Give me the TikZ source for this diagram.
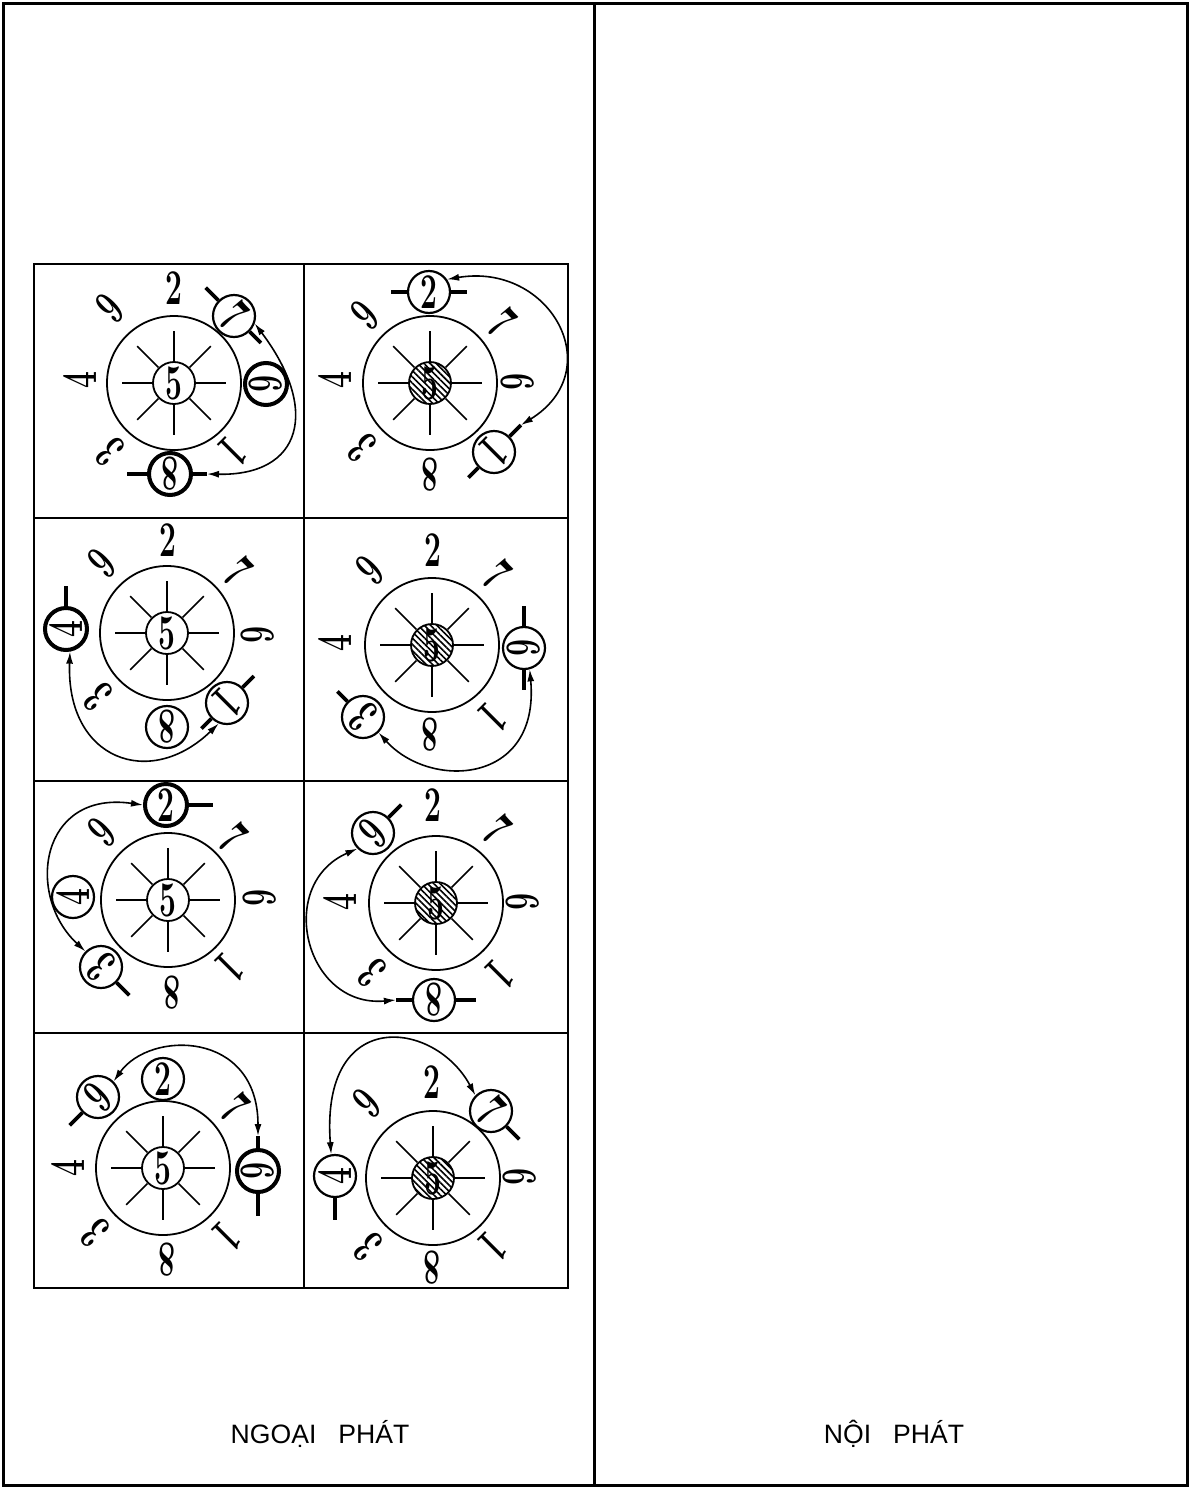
\documentclass[tikz,border=0pt]{standalone}
\usepackage{graphicx}
\usepackage{fontspec}
\newfontfamily\capfont{Liberation Sans}
\usetikzlibrary{arrows.meta,calc,patterns.meta}
\newcommand\dg[1]{\scalebox{0.6}[1]{#1}}
\newcommand\digfont{\fontsize{25}{25}\selectfont\bfseries}
\tikzset{
 frame/.style={line width=1.5pt},
 gridl/.style={line width=1.1pt},
 bigc/.style={circle,draw,line width=0.9pt,minimum size=67pt,inner sep=0pt},
 core/.style={circle,draw,line width=0.9pt,minimum size=21pt,inner sep=0pt,fill=white},
 hcore/.style={core,postaction={pattern={Lines[angle=-45,distance=2.2pt,line width=0.8pt]}}},
 ray/.style={line width=0.8pt},
 cn/.style={circle,draw,line width=1.1pt,minimum size=21pt,inner sep=0pt,fill=white},
 cnb/.style={cn,line width=2pt},
 dig/.style={inner sep=0pt,font=\digfont},
 stubl/.style={line width=1.8pt},
 arcl/.style={line width=0.8pt,{Latex[length=6pt,width=3.5pt]}-{Latex[length=6pt,width=3.5pt]}},
 captxt/.style={font=\capfont\fontsize{13.3}{13.3}\selectfont,inner sep=0pt}
}
\newcommand\rays[1]{\foreach \a in {0,45,...,315}{\draw[ray] ($(#1)+(\a:22)$) -- ($(#1)+(\a:52)$);}}
\newcommand\lab[4]{\node[dig,rotate=#4] (#1) at (#2) {\dg{#3}};}
\newcommand\cnum[5]{\node[#5] (#1) at (#2) {};\node[dig,rotate=#4] (#1d) at (#1) {\dg{#3}};}
\newcommand\stub[3]{\draw[stubl] (#1.#2) -- ($(#1.#2)+(#2:#3)$);}
\newcommand\stubc[4]{\draw[stubl] (#1.#2) -- ($(#1.#2)+(#2:#3)$) coordinate (#4);}
\newcommand\plaincore[1]{\node[core] (#1-5) at (#1) {};\node[dig] (#1-5d) at (#1) {\dg5};}
\newcommand\hatchcore[1]{\node[hcore] (#1-5) at (#1) {};\node[dig] (#1-5d) at (#1) {\dg5};}
\begin{document}
\begin{tikzpicture}[x=0.5pt,y=0.5pt]
\useasboundingbox (0,0) rectangle (1190,-1489);
% frame
\draw[frame] (3,-3) rectangle (1187,-1485);
\draw[frame] (594,-3) -- (594,-1485);
% grid
\draw[gridl] (34,-264) rectangle (568,-1288);
\draw[gridl] (304,-264) -- (304,-1288);
\foreach \y in {518,781,1033}{\draw[gridl] (34,-\y) -- (568,-\y);}

% ---------- cell 1
\node[bigc] (c1) at (174,-383) {};
\rays{c1}
\plaincore{c1}
\lab{c1-2}{174,-288}{2}{0}
\lab{c1-9}{110,-308}{9}{45}
\lab{c1-4}{80,-380}{4}{90}
\lab{c1-3}{110,-452}{3}{135}
\lab{c1-1}{233,-452}{1}{-135}
\cnum{c1-7}{234,-316}{7}{-45}{cn}
\cnum{c1-6}{266,-384}{6}{-90}{cnb}
\cnum{c1-8}{170,-474}{8}{180}{cnb}
\stub{c1-7}{135}{18}
\stub{c1-7}{-45}{16}
\stub{c1-8}{180}{20}
\stubc{c1-8}{0}{14}{c1-8e}
\draw[arcl] (c1-7.-20) .. controls (320,-410) and (302,-476) .. (c1-8e);

% ---------- cell 2
\node[bigc] (c2) at (430,-383) {};
\rays{c2}
\hatchcore{c2}
\lab{c2-9}{365,-315}{9}{45}
\lab{c2-4}{335,-380}{4}{90}
\lab{c2-3}{362,-448}{3}{135}
\lab{c2-8}{430,-475}{8}{180}
\lab{c2-7}{502,-323}{7}{-45}
\lab{c2-6}{518,-382}{6}{-90}
\cnum{c2-2}{429,-292}{2}{0}{cn}
\cnum{c2-1}{494,-452}{1}{-135}{cn}
\stub{c2-2}{180}{16}
\stub{c2-2}{0}{16}
\stubc{c2-1}{45}{16}{c2-1e}
\stub{c2-1}{-135}{14}
\draw[arcl] (c2-1e) .. controls (610,-370) and (550,-262) .. (c2-2.35);

% ---------- cell 3
\node[bigc] (c3) at (167,-633) {};
\rays{c3}
\plaincore{c3}
\lab{c3-2}{168,-540}{2}{0}
\lab{c3-9}{102,-563}{9}{45}
\lab{c3-7}{238,-572}{7}{-45}
\lab{c3-6}{258,-635}{6}{-90}
\lab{c3-3}{98,-697}{3}{135}
\cnum{c3-4}{66,-629}{4}{90}{cnb}
\cnum{c3-8}{167,-727}{8}{180}{cn}
\cnum{c3-1}{227,-703}{1}{-135}{cn}
\stub{c3-4}{90}{20}
\stub{c3-1}{45}{16}
\stub{c3-1}{-135}{14}
\draw[arcl] (c3-4.-80) .. controls (66,-760) and (150,-790) .. (c3-1.-112);

% ---------- cell 4
\node[bigc] (c4) at (432,-645) {};
\rays{c4}
\hatchcore{c4}
\lab{c4-2}{433,-550}{2}{0}
\lab{c4-9}{370,-570}{9}{45}
\lab{c4-7}{497,-575}{7}{-45}
\lab{c4-4}{335,-643}{4}{90}
\lab{c4-8}{430,-735}{8}{180}
\lab{c4-1}{493,-718}{1}{-135}
\cnum{c4-6}{524,-648}{6}{-90}{cn}
\cnum{c4-3}{363,-717}{3}{135}{cn}
\stub{c4-6}{90}{20}
\stub{c4-6}{-90}{20}
\stub{c4-3}{135}{14}
\draw[arcl] (c4-3.-45) .. controls (430,-790) and (540,-785) .. (c4-6.-75);

% ---------- cell 5
\node[bigc] (c5) at (168,-900) {};
\rays{c5}
\plaincore{c5}
\lab{c5-9}{102,-832}{9}{45}
\lab{c5-7}{233,-838}{7}{-45}
\lab{c5-6}{260,-898}{6}{-90}
\lab{c5-1}{230,-968}{1}{-135}
\lab{c5-8}{172,-993}{8}{180}
\cnum{c5-2}{166,-805}{2}{0}{cnb}
\cnum{c5-4}{73,-897}{4}{90}{cn}
\cnum{c5-3}{101,-967}{3}{135}{cn}
\stub{c5-2}{0}{24}
\stub{c5-3}{-45}{18}
\draw[arcl] (c5-2.180) .. controls (40,-790) and (25,-895) .. (c5-3.135);

% ---------- cell 6
\node[bigc] (c6) at (436,-903) {};
\rays{c6}
\hatchcore{c6}
\lab{c6-2}{433,-805}{2}{0}
\lab{c6-7}{497,-830}{7}{-45}
\lab{c6-4}{340,-902}{4}{90}
\lab{c6-6}{523,-902}{6}{-90}
\lab{c6-3}{372,-973}{3}{135}
\lab{c6-1}{500,-975}{1}{-135}
\cnum{c6-9}{373,-833}{9}{45}{cn}
\cnum{c6-8}{434,-1000}{8}{180}{cn}
\stub{c6-9}{45}{18}
\stub{c6-8}{0}{20}
\stubc{c6-8}{180}{16}{c6-8e}
\draw[arcl] (c6-8e) .. controls (305,-1008) and (275,-885) .. (c6-9.-135);

% ---------- cell 7
\node[bigc] (c7) at (163,-1168) {};
\rays{c7}
\plaincore{c7}
\lab{c7-7}{235,-1108}{7}{-45}
\lab{c7-4}{68,-1168}{4}{90}
\lab{c7-3}{95,-1233}{3}{135}
\lab{c7-8}{167,-1260}{8}{180}
\lab{c7-1}{227,-1237}{1}{-135}
\cnum{c7-2}{163,-1079}{2}{0}{cn}
\cnum{c7-9}{98,-1097}{9}{45}{cn}
\cnum{c7-6}{258,-1171}{6}{-90}{cnb}
\stub{c7-9}{-135}{18}
\stub{c7-6}{-90}{22}
\stubc{c7-6}{90}{12}{c7-6e}
\draw[arcl] (c7-9.45) .. controls (150,-1030) and (258,-1030) .. (c7-6e);

% ---------- cell 8
\node[bigc] (c8) at (433,-1178) {};
\rays{c8}
\hatchcore{c8}
\lab{c8-2}{432,-1082}{2}{0}
\lab{c8-9}{367,-1103}{9}{45}
\lab{c8-6}{520,-1177}{6}{-90}
\lab{c8-1}{493,-1247}{1}{-135}
\lab{c8-8}{432,-1268}{8}{180}
\lab{c8-3}{368,-1247}{3}{135}
\cnum{c8-7}{491,-1111}{7}{-45}{cn}
\cnum{c8-4}{335,-1176}{4}{90}{cn}
\stub{c8-7}{-45}{18}
\stub{c8-4}{-90}{22}
\draw[arcl] (c8-4.100) .. controls (320,-1005) and (435,-1020) .. (c8-7.135);

% captions
\node[captxt,anchor=base] (t1) at (320,-1443) {NGOẠI\hspace{11pt}PHÁT};
\node[captxt,anchor=base] (t2) at (894,-1443) {NỘI\hspace{11pt}PHÁT};
\end{tikzpicture}
\end{document}
